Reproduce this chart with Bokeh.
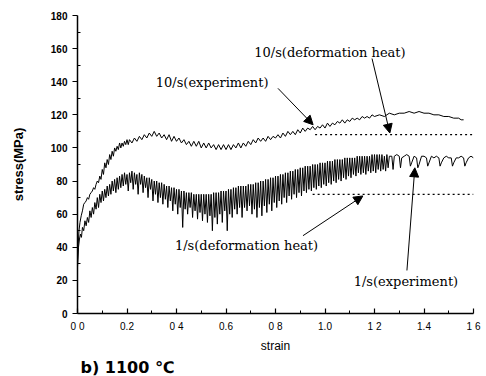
from math import pi
from bokeh.plotting import figure
from bokeh.models import Label, Arrow, NormalHead, FixedTicker, Range1d, Title
from bokeh.embed import file_html
from bokeh.resources import INLINE

# ---------------- data ----------------
x_ticks = [0.0, 0.2, 0.4, 0.6, 0.8, 1.0, 1.2, 1.4, 1.6]
x_tick_labels = ["0 0", "0.2", "0 4", "0.6", "0 8", "1.0", "1 2", "1.4", "1 6"]
x_minor = [0.1, 0.3, 0.5, 0.7, 0.9, 1.1, 1.3, 1.5]
y_ticks = [0, 20, 40, 60, 80, 100, 120, 140, 160, 180]
y_minor = [10, 30, 50, 70, 90, 110, 130, 150, 170]

# 10/s experiment (strain, stress MPa)
exp_10 = [
    (0.000, 30), (0.003, 42), (0.006, 50), (0.010, 55), (0.015, 59), (0.020, 62),
    (0.025, 66), (0.030, 67), (0.035, 68), (0.040, 70), (0.045, 69), (0.050, 72),
    (0.055, 73), (0.060, 74), (0.065, 76), (0.070, 75), (0.075, 78), (0.080, 80),
    (0.085, 79), (0.090, 83), (0.095, 81), (0.100, 87), (0.105, 84), (0.110, 91),
    (0.115, 88), (0.120, 93), (0.125, 90), (0.130, 96), (0.135, 93), (0.140, 98),
    (0.145, 95), (0.150, 100), (0.155, 98), (0.160, 101), (0.165, 99), (0.170, 103),
    (0.175, 100), (0.180, 103), (0.185, 101), (0.190, 104), (0.195, 102), (0.200, 105),
    (0.205, 102), (0.210, 105), (0.220, 103), (0.230, 106), (0.240, 104), (0.250, 107),
    (0.260, 105), (0.270, 108), (0.280, 106), (0.290, 109), (0.300, 107), (0.310, 110),
    (0.320, 107), (0.330, 109), (0.340, 106), (0.350, 108), (0.360, 105), (0.370, 108),
    (0.380, 104), (0.390, 107), (0.400, 104), (0.410, 106), (0.420, 103), (0.430, 105),
    (0.440, 102), (0.450, 104), (0.460, 101), (0.470, 104), (0.480, 101), (0.490, 104),
    (0.500, 100), (0.510, 103), (0.520, 100), (0.530, 103), (0.540, 100), (0.550, 102),
    (0.560, 99), (0.570, 102), (0.580, 99), (0.590, 102), (0.600, 99), (0.610, 102),
    (0.620, 99), (0.630, 102), (0.640, 100), (0.650, 103), (0.660, 100), (0.670, 103),
    (0.680, 101), (0.690, 104), (0.700, 102), (0.710, 105), (0.720, 103), (0.730, 106),
    (0.740, 104), (0.750, 106), (0.760, 104), (0.770, 107), (0.780, 105), (0.790, 107),
    (0.800, 106), (0.810, 108), (0.820, 106), (0.830, 109), (0.840, 107), (0.850, 110),
    (0.860, 108), (0.870, 110), (0.880, 108), (0.890, 111), (0.900, 109), (0.910, 112),
    (0.920, 110), (0.930, 112), (0.940, 111), (0.950, 113), (0.960, 111), (0.970, 113),
    (0.980, 112), (0.990, 114), (1.000, 112), (1.010, 115), (1.020, 113), (1.030, 115),
    (1.040, 114), (1.050, 116), (1.060, 115), (1.070, 117), (1.080, 115), (1.090, 117),
    (1.100, 116), (1.110, 118), (1.120, 117), (1.130, 118), (1.140, 117), (1.150, 119),
    (1.160, 118), (1.170, 119), (1.180, 118), (1.190, 120), (1.200, 119), (1.220, 120),
    (1.240, 119), (1.260, 121), (1.280, 120), (1.300, 121), (1.320, 121), (1.340, 122),
    (1.360, 121), (1.380, 122), (1.400, 121), (1.420, 121), (1.440, 120), (1.460, 120),
    (1.480, 119), (1.500, 119), (1.520, 118), (1.540, 118), (1.550, 117), (1.560, 117),
]

# 1/s experiment (strain, stress MPa), serrated curve
exp_1 = [
    (0.000, 28), (0.004, 40), (0.008, 45), (0.012, 48), (0.016, 46), (0.020, 52),
    (0.025, 50), (0.030, 56), (0.035, 53), (0.040, 58), (0.045, 55), (0.050, 62),
    (0.055, 58), (0.060, 64), (0.065, 60), (0.070, 67), (0.075, 63), (0.080, 70),
    (0.085, 64), (0.090, 72), (0.095, 67), (0.100, 74), (0.105, 68), (0.110, 75),
    (0.115, 70), (0.120, 77), (0.125, 71), (0.130, 78), (0.135, 72), (0.140, 80),
    (0.145, 74), (0.150, 81), (0.155, 73), (0.160, 82), (0.165, 75), (0.170, 83),
    (0.175, 76), (0.180, 84), (0.185, 77), (0.190, 85), (0.195, 78), (0.200, 84),
    (0.205, 74), (0.210, 85), (0.215, 79), (0.220, 86), (0.225, 75), (0.230, 85),
    (0.235, 78), (0.240, 84), (0.245, 72), (0.250, 85), (0.255, 78), (0.260, 84),
    (0.265, 73), (0.270, 83), (0.275, 76), (0.280, 82), (0.285, 70), (0.290, 82),
    (0.295, 75), (0.300, 81), (0.305, 68), (0.310, 80), (0.315, 72), (0.320, 80),
    (0.325, 67), (0.330, 79), (0.335, 70), (0.340, 79), (0.345, 66), (0.350, 78),
    (0.355, 69), (0.360, 77), (0.365, 64), (0.370, 77), (0.375, 68), (0.380, 76),
    (0.385, 62), (0.390, 76), (0.395, 66), (0.400, 75), (0.405, 60), (0.410, 75),
    (0.415, 64), (0.420, 74), (0.425, 52), (0.430, 74), (0.435, 63), (0.440, 73),
    (0.445, 60), (0.450, 73), (0.455, 64), (0.460, 73), (0.465, 58), (0.470, 72),
    (0.475, 62), (0.480, 72), (0.485, 57), (0.490, 72), (0.495, 61), (0.500, 72),
    (0.505, 56), (0.510, 72), (0.515, 60), (0.520, 72), (0.525, 55), (0.530, 72),
    (0.535, 59), (0.540, 72), (0.545, 50), (0.550, 73), (0.555, 58), (0.560, 73),
    (0.565, 54), (0.570, 73), (0.575, 60), (0.580, 74), (0.585, 55), (0.590, 74),
    (0.595, 62), (0.600, 74), (0.605, 50), (0.610, 75), (0.615, 60), (0.620, 75),
    (0.625, 58), (0.630, 76), (0.635, 63), (0.640, 76), (0.645, 60), (0.650, 77),
    (0.655, 64), (0.660, 77), (0.665, 58), (0.670, 77), (0.675, 64), (0.680, 77),
    (0.685, 62), (0.690, 78), (0.695, 65), (0.700, 78), (0.705, 60), (0.710, 78),
    (0.715, 63), (0.720, 79), (0.725, 58), (0.730, 79), (0.735, 64), (0.740, 80),
    (0.745, 59), (0.750, 80), (0.755, 65), (0.760, 81), (0.765, 61), (0.770, 81),
    (0.775, 66), (0.780, 82), (0.785, 62), (0.790, 82), (0.795, 67), (0.800, 83),
    (0.805, 64), (0.810, 83), (0.815, 68), (0.820, 84), (0.825, 66), (0.830, 84),
    (0.835, 70), (0.840, 85), (0.845, 67), (0.850, 85), (0.855, 71), (0.860, 86),
    (0.865, 69), (0.870, 86), (0.875, 72), (0.880, 87), (0.885, 70), (0.890, 87),
    (0.895, 73), (0.900, 88), (0.905, 71), (0.910, 88), (0.915, 74), (0.920, 89),
    (0.925, 73), (0.930, 89), (0.935, 75), (0.940, 89), (0.945, 74), (0.950, 90),
    (0.955, 76), (0.960, 90), (0.965, 75), (0.970, 90), (0.975, 77), (0.980, 91),
    (0.985, 76), (0.990, 91), (0.995, 78), (1.000, 91), (1.005, 77), (1.010, 92),
    (1.015, 79), (1.020, 92), (1.025, 78), (1.030, 92), (1.035, 80), (1.040, 93),
    (1.045, 79), (1.050, 93), (1.055, 81), (1.060, 93), (1.065, 80), (1.070, 93),
    (1.075, 82), (1.080, 94), (1.085, 81), (1.090, 94), (1.095, 83), (1.100, 94),
    (1.105, 82), (1.110, 94), (1.115, 84), (1.120, 94), (1.125, 83), (1.130, 95),
    (1.135, 85), (1.140, 95), (1.145, 84), (1.150, 95), (1.155, 85), (1.160, 95),
    (1.165, 84), (1.170, 95), (1.175, 86), (1.180, 95), (1.185, 85), (1.190, 96),
    (1.195, 86), (1.200, 96), (1.205, 85), (1.210, 96), (1.215, 87), (1.220, 96),
    (1.225, 86), (1.230, 96), (1.235, 87), (1.240, 95), (1.245, 86), (1.250, 96),
    (1.255, 88), (1.260, 95), (1.270, 95), (1.275, 87), (1.280, 95), (1.290, 96),
    (1.300, 95), (1.305, 88), (1.310, 94), (1.320, 95), (1.330, 96), (1.340, 95),
    (1.345, 89), (1.350, 91), (1.360, 95), (1.370, 94), (1.375, 88), (1.380, 90),
    (1.390, 95), (1.400, 95), (1.410, 94), (1.415, 89), (1.420, 91), (1.430, 95),
    (1.440, 94), (1.450, 95), (1.460, 94), (1.465, 89), (1.470, 91), (1.480, 94),
    (1.490, 95), (1.500, 94), (1.510, 94), (1.515, 89), (1.520, 91), (1.530, 94),
    (1.540, 94), (1.550, 95), (1.560, 94), (1.565, 89), (1.570, 91), (1.580, 94),
    (1.590, 95), (1.600, 94),
]

# deformation-heat (dotted) levels
dh10_strain = [0.96, 1.60]
dh10_stress = [108, 108]
dh1_strain = [0.95, 1.60]
dh1_stress = [72, 72]

# ---------------- figure ----------------
p = figure(width=486, height=376, output_backend="svg", toolbar_location=None,
           x_range=Range1d(0, 1.6), y_range=Range1d(0, 180),
           min_border_left=77, min_border_right=13,
           min_border_top=15, min_border_bottom=63)
p.background_fill_color = "white"
p.border_fill_color = "white"
p.outline_line_color = None
p.grid.visible = False

p.xaxis.ticker = FixedTicker(ticks=x_ticks, minor_ticks=x_minor)
p.xaxis.major_label_overrides = {t: l for t, l in zip(x_ticks, x_tick_labels)}
p.yaxis.ticker = FixedTicker(ticks=y_ticks, minor_ticks=y_minor)

for ax in (p.xaxis[0], p.yaxis[0]):
    ax.axis_line_width = 1.5
    ax.axis_line_color = "black"
    ax.major_tick_line_color = "black"
    ax.minor_tick_line_color = "black"
    ax.major_tick_line_width = 1.2
    ax.major_label_text_font = "Liberation Sans"
    ax.major_label_text_font_size = "10px"
    ax.major_label_text_color = "black"
    ax.axis_label_text_font = "Liberation Sans"
    ax.axis_label_text_color = "black"

p.xaxis.major_tick_in = 5
p.xaxis.major_tick_out = 0
p.xaxis.minor_tick_in = 3
p.xaxis.minor_tick_out = 0
p.xaxis.major_label_standoff = 7
p.xaxis.axis_label = "strain"
p.xaxis.axis_label_text_font_size = "12px"
p.xaxis.axis_label_text_font_style = "normal"
p.xaxis.axis_label_standoff = 4

p.yaxis.major_tick_in = 0
p.yaxis.major_tick_out = 5
p.yaxis.minor_tick_in = 3
p.yaxis.minor_tick_out = 0
p.yaxis.major_label_standoff = 5
p.yaxis.major_label_text_font_style = "bold"
p.yaxis.axis_label = "stress(MPa)"
p.yaxis.axis_label_text_font_size = "13px"
p.yaxis.axis_label_text_font_style = "bold"
p.yaxis.axis_label_standoff = 22

# panel title below the axis
p.add_layout(Title(text="b) 1100  \u2103", align="left", offset=3, standoff=0,
                   text_font="DejaVu Sans", text_font_size="16px",
                   text_font_style="bold", text_color="black"), "below")

# curves
s10, v10 = zip(*exp_10)
s1, v1 = zip(*exp_1)
p.line(list(s10), list(v10), line_color="black", line_width=1)
p.line(list(s1), list(v1), line_color="black", line_width=1)
p.line(dh10_strain, dh10_stress, line_color="black", line_width=1.2, line_dash="2 3")
p.line(dh1_strain, dh1_stress, line_color="black", line_width=1.2, line_dash="2 3")

# annotations
serif = "DejaVu Serif"
def add_label(x, y, text):
    p.add_layout(Label(x=x, y=y, text=text, text_font=serif, text_font_size="13px",
                       text_align="center", text_baseline="middle", text_color="black"))

add_label(1.02, 157.6, "10/s(deformation heat)")
add_label(0.544, 139.5, "10/s(experiment)")
add_label(0.683, 41.0, "1/s(deformation heat)")
add_label(1.327, 19.3, "1/s(experiment)")

def add_arrow(xs, ys, xe, ye):
    p.add_layout(Arrow(end=NormalHead(size=9, fill_color="black", line_color="black"),
                       x_start=xs, y_start=ys, x_end=xe, y_end=ye,
                       line_color="black", line_width=1))

add_arrow(0.81, 136, 0.952, 114)
add_arrow(1.19, 154, 1.262, 109)
add_arrow(0.911, 47, 1.153, 71)
add_arrow(1.331, 26, 1.363, 88)

open("out.html", "w").write(file_html(p, INLINE))
